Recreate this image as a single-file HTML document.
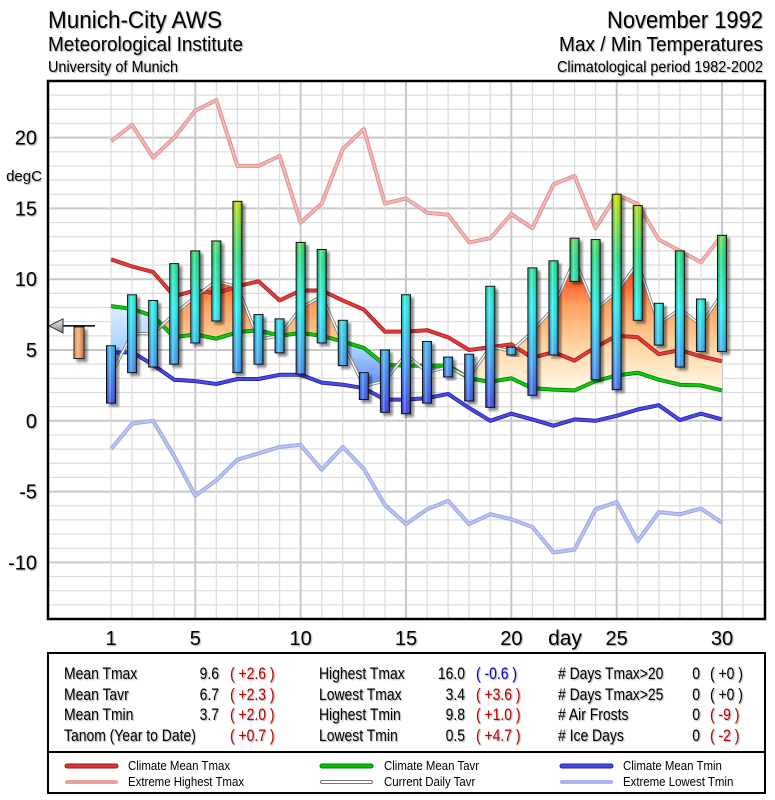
<!DOCTYPE html>
<html><head><meta charset="utf-8">
<style>
html,body{margin:0;padding:0;background:#fff;}
svg{display:block;font-family:"Liberation Sans Narrow","Liberation Sans",sans-serif;}
.sh{filter:drop-shadow(1px 1px 0.6px rgba(0,0,0,0.35));}
</style></head>
<body>
<svg id="chart" width="775" height="800" viewBox="0 0 775 800" xmlns="http://www.w3.org/2000/svg">
<defs>
  <linearGradient id="barCol" gradientUnits="userSpaceOnUse" x1="0" y1="421" x2="0" y2="195">
    <stop offset="0" stop-color="#3a2fe8"/>
    <stop offset="0.25" stop-color="#3f9cf2"/>
    <stop offset="0.5" stop-color="#22eeee"/>
    <stop offset="0.72" stop-color="#22dd88"/>
    <stop offset="1" stop-color="#c8e000"/>
  </linearGradient>
  <linearGradient id="barShade" x1="0" y1="0" x2="1" y2="0">
    <stop offset="0" stop-color="#000" stop-opacity="0.15"/>
    <stop offset="0.35" stop-color="#fff" stop-opacity="0.35"/>
    <stop offset="0.6" stop-color="#fff" stop-opacity="0"/>
    <stop offset="1" stop-color="#000" stop-opacity="0.35"/>
  </linearGradient>
  <linearGradient id="warmFill" gradientUnits="userSpaceOnUse" x1="0" y1="240" x2="0" y2="385">
    <stop offset="0" stop-color="#ff2000"/>
    <stop offset="0.25" stop-color="#ff5020"/>
    <stop offset="0.45" stop-color="#ffa060"/>
    <stop offset="0.75" stop-color="#ffd8a8"/>
    <stop offset="1" stop-color="#fff4e0"/>
  </linearGradient>
  <linearGradient id="coldFill" gradientUnits="userSpaceOnUse" x1="0" y1="300" x2="0" y2="400">
    <stop offset="0" stop-color="#e4f2ff"/>
    <stop offset="0.5" stop-color="#a8d0ff"/>
    <stop offset="1" stop-color="#4a70ff"/>
  </linearGradient>
  <linearGradient id="triGrad" x1="0" y1="0" x2="0" y2="1">
    <stop offset="0" stop-color="#eee"/><stop offset="1" stop-color="#888"/>
  </linearGradient>
  <linearGradient id="orangeBar" x1="0" y1="0" x2="1" y2="0">
    <stop offset="0" stop-color="#d88850"/><stop offset="0.4" stop-color="#f8c090"/><stop offset="1" stop-color="#c07040"/>
  </linearGradient>
  <clipPath id="plotClip"><rect x="48" y="81" width="717" height="538"/></clipPath>
  <clipPath id="aboveClip"><polygon id="aboveClipPoly" points=""/></clipPath>
  <clipPath id="belowClip"><polygon id="belowClipPoly" points=""/></clipPath>
  <filter id="barShadow" x="-50%" y="-10%" width="200%" height="130%">
    <feDropShadow dx="3" dy="3" stdDeviation="1.2" flood-color="#000" flood-opacity="0.45"/>
  </filter>
</defs>

<g class="sh">
  <text x="48" y="28" font-size="24" textLength="174" lengthAdjust="spacingAndGlyphs">Munich-City AWS</text>
  <text x="48" y="51" font-size="20" textLength="195" lengthAdjust="spacingAndGlyphs">Meteorological Institute</text>
  <text x="48" y="72" font-size="16" textLength="130" lengthAdjust="spacingAndGlyphs">University of Munich</text>
</g>
<g class="sh">
  <text x="763" y="28" font-size="24" text-anchor="end" textLength="156" lengthAdjust="spacingAndGlyphs">November 1992</text>
  <text x="763" y="51" font-size="20" text-anchor="end" textLength="204" lengthAdjust="spacingAndGlyphs">Max / Min Temperatures</text>
  <text x="763" y="72" font-size="16" text-anchor="end" textLength="206" lengthAdjust="spacingAndGlyphs">Climatological period 1982-2002</text>
</g>

<g id="grid"></g>
<g id="plot" clip-path="url(#plotClip)"></g>
<rect x="48" y="81" width="717" height="538" fill="none" stroke="#000" stroke-width="2.5"/>
<g id="yaxis" class="sh"></g>
<text class="sh" x="24" y="181" font-size="15" text-anchor="middle">degC</text>
<g id="xaxis" class="sh"></g>
<text class="sh" x="565" y="645" font-size="21" text-anchor="middle">day</text>

<g>
  <rect x="48" y="653" width="717" height="99" fill="#fff" stroke="#000" stroke-width="2"/>
  <g id="statsText" font-size="17" class="sh">
    <text x="64" y="679">Mean Tmax</text><text x="219" y="679" text-anchor="end">9.6</text><text x="230" y="679" fill="#c00000">( +2.6 )</text>
    <text x="64" y="700">Mean Tavr</text><text x="219" y="700" text-anchor="end">6.7</text><text x="230" y="700" fill="#c00000">( +2.3 )</text>
    <text x="64" y="720">Mean Tmin</text><text x="219" y="720" text-anchor="end">3.7</text><text x="230" y="720" fill="#c00000">( +2.0 )</text>
    <text x="64" y="741">Tanom (Year to Date)</text><text x="230" y="741" fill="#c00000">( +0.7 )</text>
    <text x="319" y="679">Highest Tmax</text><text x="465" y="679" text-anchor="end">16.0</text><text x="476" y="679" fill="#0000c0">( -0.6 )</text>
    <text x="319" y="700">Lowest Tmax</text><text x="465" y="700" text-anchor="end">3.4</text><text x="476" y="700" fill="#c00000">( +3.6 )</text>
    <text x="319" y="720">Highest Tmin</text><text x="465" y="720" text-anchor="end">9.8</text><text x="476" y="720" fill="#c00000">( +1.0 )</text>
    <text x="319" y="741">Lowest Tmin</text><text x="465" y="741" text-anchor="end">0.5</text><text x="476" y="741" fill="#c00000">( +4.7 )</text>
    <text x="558" y="679"># Days Tmax&gt;20</text><text x="700" y="679" text-anchor="end">0</text><text x="710" y="679">( +0 )</text>
    <text x="558" y="700"># Days Tmax&gt;25</text><text x="700" y="700" text-anchor="end">0</text><text x="710" y="700">( +0 )</text>
    <text x="558" y="720"># Air Frosts</text><text x="700" y="720" text-anchor="end">0</text><text x="710" y="720" fill="#c00000">( -9 )</text>
    <text x="558" y="741"># Ice Days</text><text x="700" y="741" text-anchor="end">0</text><text x="710" y="741" fill="#c00000">( -2 )</text>
  </g>
</g>

<g>
  <rect x="48" y="752" width="717" height="41" fill="#fff" stroke="#000" stroke-width="2"/>
  <g>
    <line x1="67" y1="766" x2="116" y2="766" stroke="#902020" stroke-width="5" stroke-linecap="round"/>
    <line x1="67" y1="766" x2="116" y2="766" stroke="#e03030" stroke-width="3" stroke-linecap="round"/>
    <text class="legText" x="128" y="770" font-size="13">Climate Mean Tmax</text>
  </g>
  <g>
    <line x1="67" y1="782" x2="116" y2="782" stroke="#e8a0a0" stroke-width="4" stroke-linecap="round"/>
    <text class="legText" x="128" y="786" font-size="13">Extreme Highest Tmax</text>
  </g>
  <g>
    <line x1="322" y1="766" x2="371" y2="766" stroke="#008000" stroke-width="5" stroke-linecap="round"/>
    <line x1="322" y1="766" x2="371" y2="766" stroke="#00c000" stroke-width="3" stroke-linecap="round"/>
    <text class="legText" x="384" y="770" font-size="13">Climate Mean Tavr</text>
  </g>
  <g>
    <line x1="322" y1="782" x2="371" y2="782" stroke="#777" stroke-width="4" stroke-linecap="round"/>
    <line x1="322" y1="782" x2="371" y2="782" stroke="#fff" stroke-width="2" stroke-linecap="round"/>
    <text class="legText" x="384" y="786" font-size="13">Current Daily Tavr</text>
  </g>
  <g>
    <line x1="562" y1="766" x2="611" y2="766" stroke="#2020a0" stroke-width="5" stroke-linecap="round"/>
    <line x1="562" y1="766" x2="611" y2="766" stroke="#4848e8" stroke-width="3" stroke-linecap="round"/>
    <text class="legText" x="623" y="770" font-size="13">Climate Mean Tmin</text>
  </g>
  <g>
    <line x1="562" y1="782" x2="611" y2="782" stroke="#aab4ee" stroke-width="4" stroke-linecap="round"/>
    <text class="legText" x="623" y="786" font-size="13">Extreme Lowest Tmin</text>
  </g>
</g>

<script>
const days = [1,2,3,4,5,6,7,8,9,10,11,12,13,14,15,16,17,18,19,20,21,22,23,24,25,26,27,28,29,30];
const tmax = [5.3,8.9,8.5,11.1,12.0,12.7,15.5,7.5,7.2,12.6,12.1,7.1,3.4,5.0,8.9,5.6,4.5,4.7,9.5,5.2,10.8,11.3,12.9,12.8,16.0,15.2,8.3,12.0,8.6,13.1];
const tmin = [1.25,3.4,3.8,4.0,5.5,7.05,3.4,4.0,4.8,3.3,5.5,3.9,1.5,0.6,0.5,1.25,3.1,1.4,0.95,4.65,1.8,4.65,9.85,2.9,2.2,7.1,5.35,3.8,4.9,4.9];
const climTmax = [11.4,10.9,10.5,8.8,9.2,9.0,9.5,9.85,8.5,9.2,9.2,8.5,7.85,6.3,6.3,6.4,5.9,5.0,5.2,5.4,4.45,4.85,4.25,5.2,6.0,5.9,4.7,5.0,4.55,4.2];
const climTavr = [8.1,7.9,7.4,5.9,6.1,5.8,6.25,6.4,6.0,6.2,6.0,5.6,5.15,3.95,3.9,3.9,3.9,3.0,2.75,3.0,2.3,2.2,2.15,2.8,3.2,3.4,2.9,2.55,2.5,2.15];
const climTmin = [4.8,4.85,3.95,2.9,2.8,2.6,2.95,2.95,3.25,3.25,2.7,2.55,2.3,1.5,1.5,1.6,1.9,0.9,0.0,0.5,0.1,-0.35,0.1,0.0,0.35,0.8,1.1,0.05,0.5,0.1];
const extMax = [19.75,20.9,18.6,20.0,21.9,22.65,18.0,18.0,18.7,14.0,15.35,19.2,20.6,15.35,15.7,14.7,14.55,12.6,12.9,14.6,13.6,16.7,17.3,13.6,16.0,15.3,12.8,12.0,11.2,13.1];
const extMin = [-2.0,-0.2,0.0,-2.5,-5.3,-4.2,-2.75,-2.3,-1.85,-1.7,-3.45,-1.85,-3.4,-5.95,-7.3,-6.25,-5.65,-7.3,-6.6,-6.95,-7.5,-9.3,-9.1,-6.25,-5.75,-8.5,-6.45,-6.6,-6.2,-7.2];
const yTicks = [20,15,10,5,0,-5,-10];
const xTicks = [1,5,10,15,20,25,30];
const monthMeanTavr = 6.7;
const monthTavrAnom = 2.3;

const NS = 'http://www.w3.org/2000/svg';
const X0 = 48, X1 = 765, Y0 = 81, Y1 = 619;
const yMin = -14, yMax = 24;
function xs(d){ return 111 + (d - 1) * 21.07; }
function ys(v){ return Y1 - (v - yMin) * (Y1 - Y0) / (yMax - yMin); }
function mk(tag, attrs, parent){
  const e = document.createElementNS(NS, tag);
  for (const k in attrs) e.setAttribute(k, attrs[k]);
  parent.appendChild(e);
  return e;
}
function pts(arr){ return arr.map((v,i)=> xs(days[i]).toFixed(1)+','+ys(v).toFixed(1)).join(' '); }

// condense text (narrow font emulation)
function condense(el, s){
  const x = parseFloat(el.getAttribute('x'));
  el.setAttribute('transform', 'translate(' + x + ',0) scale(' + s + ',1) translate(' + (-x) + ',0)');
}
document.querySelectorAll('#statsText text').forEach(t => condense(t, 0.82));
document.querySelectorAll('.legText').forEach(t => condense(t, 0.88));

const grid = document.getElementById('grid');
for (let v = yMin; v <= yMax; v++) {
  const l = mk('line', {x1:X0, x2:X1, y1:ys(v), y2:ys(v), stroke: v%5===0?'#c8c8c8':'#dcdcdc', 'stroke-width': v%5===0?2:1.2}, grid);
  
  
}
for (let d = 1; d <= 31; d++) {
  const l = mk('line', {x1:xs(d), x2:xs(d), y1:Y0, y2:Y1, stroke: d%5===0?'#c8c8c8':'#dcdcdc', 'stroke-width': d%5===0?2:1.2}, grid);
  
  
}

const yaxis = document.getElementById('yaxis');
yTicks.forEach(v => {
  const t = mk('text', {x:37, y:ys(v)+7, 'font-size':20, 'text-anchor':'end'}, yaxis);
  t.textContent = String(v);
  
  
});
const xaxis = document.getElementById('xaxis');
xTicks.forEach(d => {
  const t = mk('text', {x:xs(d), y:645, 'font-size':20, 'text-anchor':'middle'}, xaxis);
  t.textContent = String(d);
  
  
});

const plot = document.getElementById('plot');
const tavr = tmax.map((v,i)=> (v + tmin[i]) / 2);

const climPts = pts(climTavr);
const first = xs(days[0]), last = xs(days[days.length-1]);
document.getElementById('aboveClipPoly').setAttribute('points', climPts + ' ' + last + ',' + Y0 + ' ' + first + ',' + Y0);
document.getElementById('belowClipPoly').setAttribute('points', climPts + ' ' + last + ',' + Y1 + ' ' + first + ',' + Y1);
const areaPts = pts(tavr) + ' ' + climTavr.map((v,i)=>[xs(days[i]).toFixed(1), ys(v).toFixed(1)]).reverse().map(p=>p.join(',')).join(' ');

function series(arr, name, outer, inner, wo, wi){
  const g = mk('g', {}, plot);
  
  
  mk('polyline', {points: pts(arr), fill:'none', stroke: outer, 'stroke-width': wo, 'stroke-linejoin':'round'}, g);
  if (inner) mk('polyline', {points: pts(arr), fill:'none', stroke: inner, 'stroke-width': wi, 'stroke-linejoin':'round'}, g);
}

series(extMax, 'extreme-highest-tmax-line', '#e09090', '#f4b8b8', 4, 2);
series(extMin, 'extreme-lowest-tmin-line', '#98a4e4', '#bcc4f4', 4, 2);

const warm = mk('polygon', {points: areaPts, fill:'url(#warmFill)', 'clip-path':'url(#aboveClip)'}, plot);


const cold = mk('polygon', {points: areaPts, fill:'url(#coldFill)', 'clip-path':'url(#belowClip)'}, plot);



series(climTmax, 'climate-mean-tmax-line', '#a02020', '#e83838', 4, 2.4);
series(climTavr, 'climate-mean-tavr-line', '#008000', '#10c810', 4, 2.4);
series(climTmin, 'climate-mean-tmin-line', '#2020a0', '#4a4ae8', 4, 2.4);
series(tavr, 'current-daily-tavr-line', '#808080', '#ffffff', 3.2, 1.4);

days.forEach((d,i) => {
  const x = xs(d) - 4.5, yt = ys(tmax[i]), yb = ys(tmin[i]);
  const g = mk('g', {filter:'url(#barShadow)'}, plot);
  
  
  mk('rect', {x:x, y:yt, width:9, height:Math.max(1, yb-yt), fill:'url(#barCol)', stroke:'#111', 'stroke-width':1}, g);
  mk('rect', {x:x+0.5, y:yt+0.5, width:8, height:Math.max(0.5, yb-yt-1), fill:'url(#barShade)'}, g);
});

const ind = mk('g', {}, plot);


const ym = ys(monthMeanTavr), yc = ys(monthMeanTavr - monthTavrAnom);
mk('line', {x1:62, x2:95, y1:ym, y2:ym, stroke:'#000', 'stroke-width':1.5}, ind);
mk('polygon', {points: '49,'+ym+' 63,'+(ym-7)+' 63,'+(ym+7), fill:'url(#triGrad)', stroke:'#333', 'stroke-width':1}, ind);
mk('rect', {x:74, y:ym+1, width:10, height:yc-ym-1, fill:'url(#orangeBar)', stroke:'#222', 'stroke-width':1, filter:'url(#barShadow)'}, ind);
</script>
</body></html>
